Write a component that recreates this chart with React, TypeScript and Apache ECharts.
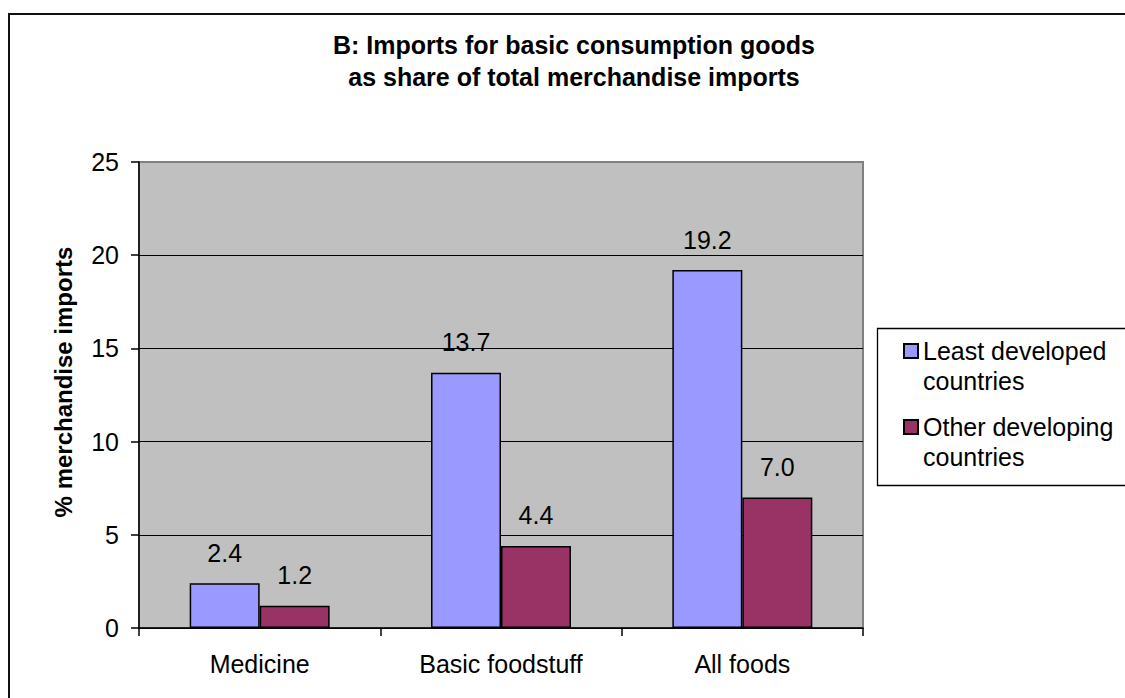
import React, { useEffect, useRef } from "react";
import * as echarts from "echarts";

const categories = ["Medicine", "Basic foodstuff", "All foods"];
const leastDeveloped = [2.4, 13.7, 19.2];
const otherDeveloping = [1.2, 4.4, 7.0];
const seriesNames = ["Least developed countries", "Other developing countries"];
const titleLines = ["B: Imports for basic consumption goods", "as share of total merchandise imports"];
const yAxisTitle = "% merchandise imports";

const FONT = "'Liberation Sans', Arial, sans-serif";

export default function App() {
  const ref = useRef<HTMLDivElement>(null);
  useEffect(() => {
    if (!ref.current) return;
    const chart = echarts.init(ref.current, undefined, { renderer: "svg" });
    const valueLabel = {
      show: true,
      position: "top",
      distance: 18,
      fontFamily: FONT,
      fontSize: 25,
      color: "#000",
      formatter: (p: any) => Number(p.value).toFixed(1),
    };
    chart.setOption({
      animation: false,
      backgroundColor: "#ffffff",
      textStyle: { fontFamily: FONT },
      title: {
        text: titleLines.join("\n"),
        left: 569,
        top: 24,
        textAlign: "center",
        textStyle: {
          fontFamily: FONT,
          fontSize: 25,
          fontWeight: "bold",
          color: "#000",
          lineHeight: 32,
        },
      },
      graphic: [
        {
          type: "rect",
          shape: { x: 9, y: 14, width: 1300, height: 1000 },
          style: { fill: "none", stroke: "#111", lineWidth: 2 },
          silent: true,
          z: 10,
        },
        {
          type: "rect",
          shape: { x: 877.5, y: 328.5, width: 400, height: 157 },
          style: { fill: "#fff", stroke: "#000", lineWidth: 1.3 },
          silent: true,
          z: 1,
        },
      ],
      grid: {
        left: 139,
        top: 162,
        right: 262,
        bottom: 70,
        show: true,
        backgroundColor: "#C0C0C0",
        borderColor: "#808080",
        borderWidth: 2,
      },
      legend: {
        orient: "vertical",
        left: 903,
        top: 306,
        padding: 0,
        itemWidth: 14,
        itemHeight: 14,
        itemGap: -14,
        icon: "rect",
        z: 5,
        formatter: (name: string) => "\n" + name.replace(" countries", "\ncountries"),
        textStyle: {
          fontFamily: FONT,
          fontSize: 25,
          color: "#000",
          lineHeight: 30,
        },
        data: seriesNames,
      },
      xAxis: {
        type: "category",
        data: categories,
        axisLine: { lineStyle: { color: "#000", width: 1.5 } },
        axisTick: { show: true, length: 8, lineStyle: { color: "#000", width: 1.5 } },
        axisLabel: { fontFamily: FONT, fontSize: 25, color: "#000", margin: 23 },
      },
      yAxis: {
        type: "value",
        min: 0,
        max: 25,
        interval: 5,
        name: yAxisTitle,
        nameLocation: "middle",
        nameGap: 64,
        nameTextStyle: {
          fontFamily: FONT,
          fontSize: 24,
          fontWeight: "bold",
          color: "#000",
          padding: [0, 0, 0, 26],
        },
        axisLine: { show: true, lineStyle: { color: "#000", width: 1.5 } },
        axisTick: { show: true, length: 8, lineStyle: { color: "#000", width: 1.5 } },
        axisLabel: { fontFamily: FONT, fontSize: 25, color: "#000", margin: 20 },
        splitLine: {
          show: true,
          lineStyle: {
            color: ["#000", "#000", "#000", "#000", "#000", "#808080"],
            width: 1,
          },
        },
      },
      series: [
        {
          name: seriesNames[0],
          type: "bar",
          data: leastDeveloped,
          barGap: "0%",
          barCategoryGap: "42%",
          itemStyle: { color: "#9999FF", borderColor: "#000", borderWidth: 1.5 },
          label: valueLabel,
        },
        {
          name: seriesNames[1],
          type: "bar",
          data: otherDeveloping,
          barGap: "0%",
          barCategoryGap: "42%",
          itemStyle: { color: "#993366", borderColor: "#000", borderWidth: 1.5 },
          label: valueLabel,
        },
      ],
    });
    return () => chart.dispose();
  }, []);
  return (
    <div
      ref={ref}
      style={{ position: "absolute", left: 0, top: 0, width: 1125, height: 698 }}
    />
  );
}
